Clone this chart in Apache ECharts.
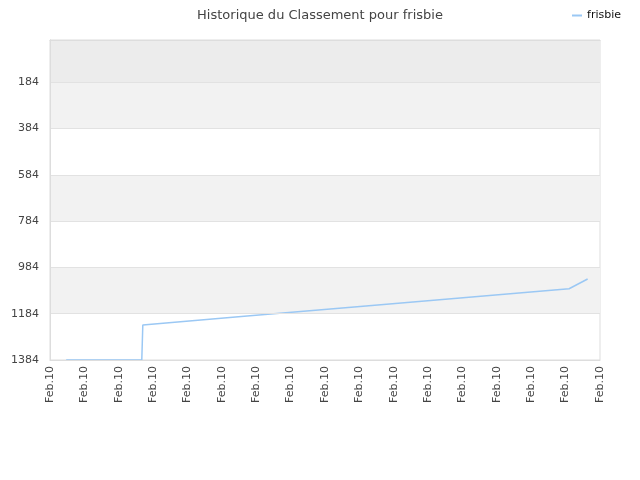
<!DOCTYPE html>
<html lang="fr">
<head>
<meta charset="UTF-8">
<title>Historique du Classement pour frisbie</title>
<script src="https://cdn.jsdelivr.net/npm/echarts@6/dist/echarts.min.js"></script>
<style>
    html, body {margin: 0; padding: 0; background: #fff;}
    #main {width: 640px; height: 480px;}
</style>
</head>
<body>
<div id="main"></div>
<script>
    // positions sur l'axe du temps (0..16) et classement
    var timePos = [0.47, 2.67, 2.7, 5.82, 9.02, 11.93, 15.1, 15.64];
    var ranks = [1384, 1384, 1233, 1193, 1153, 1116, 1076, 1034];
    var xLabels = ['Feb.10','Feb.10','Feb.10','Feb.10','Feb.10','Feb.10','Feb.10','Feb.10','Feb.10',
                   'Feb.10','Feb.10','Feb.10','Feb.10','Feb.10','Feb.10','Feb.10','Feb.10'];
    var yTicks = [184, 384, 584, 784, 984, 1184, 1384];
    var rankMin = 1;

    var fontName = 'DejaVu Sans';
    var lineColor = '#9bc8f4';
    var borderColor = '#dddddd';

    var seriesData = [];
    for (var i = 0; i < timePos.length; i++) {
        seriesData.push([timePos[i], ranks[i]]);
    }

    // bandes grises du fond
    var bands = [
        [{yAxis: rankMin, itemStyle: {color: '#ececec'}}, {yAxis: yTicks[0]}],
        [{yAxis: yTicks[0], itemStyle: {color: '#f2f2f2'}}, {yAxis: yTicks[1]}],
        [{yAxis: yTicks[2], itemStyle: {color: '#f2f2f2'}}, {yAxis: yTicks[3]}],
        [{yAxis: yTicks[4], itemStyle: {color: '#f2f2f2'}}, {yAxis: yTicks[5]}]
    ];

    var myChart = echarts.init(document.getElementById('main'));
    var option = {
        backgroundColor: '#fff',
        animation: false,
        title: {
            text: 'Historique du Classement pour frisbie',
            left: 'center',
            top: 4,
            textStyle: {fontFamily: fontName, fontSize: 13, fontWeight: 'normal', color: '#444'}
        },
        legend: {
            data: ['frisbie'],
            right: 14,
            top: 5,
            icon: 'rect',
            itemWidth: 10,
            itemHeight: 2,
            itemGap: 6,
            textStyle: {fontFamily: fontName, fontSize: 11, color: '#111'}
        },
        grid: {
            left: 50,
            right: 40,
            top: 40,
            bottom: 120,
            show: true,
            borderColor: borderColor,
            borderWidth: 1,
            backgroundColor: '#fff'
        },
        xAxis: [{
            type: 'value',
            min: 0,
            max: 16,
            interval: 1,
            z: 5,
            axisLine: {show: true, lineStyle: {color: borderColor}},
            axisTick: {show: false},
            splitLine: {show: false},
            axisLabel: {
                rotate: 90,
                margin: 6,
                fontFamily: fontName,
                fontSize: 11,
                color: '#444',
                formatter: function (v) { return xLabels[Math.round(v)]; }
            }
        }, {
            type: 'value',
            position: 'top',
            min: 0,
            max: 16,
            z: 5,
            axisLine: {show: true, lineStyle: {color: borderColor}},
            axisTick: {show: false},
            axisLabel: {show: false},
            splitLine: {show: false}
        }],
        yAxis: [{
            type: 'value',
            inverse: true,
            min: rankMin,
            max: 1384,
            z: 5,
            axisLine: {show: true, lineStyle: {color: borderColor}},
            axisTick: {show: false, customValues: yTicks},
            splitLine: {show: true, lineStyle: {color: '#e2e2e2'}},
            axisLabel: {
                customValues: yTicks,
                margin: 11,
                fontFamily: fontName,
                fontSize: 11,
                color: '#444',
                formatter: function (v) { return String(v); }
            }
        }, {
            type: 'value',
            position: 'right',
            inverse: true,
            min: rankMin,
            max: 1384,
            z: 5,
            axisLine: {show: true, lineStyle: {color: borderColor}},
            axisTick: {show: false},
            axisLabel: {show: false},
            splitLine: {show: false}
        }],
        series: [{
            name: 'frisbie',
            type: 'line',
            data: seriesData,
            showSymbol: false,
            symbol: 'none',
            lineStyle: {color: lineColor, width: 1.5},
            itemStyle: {color: lineColor},
            markArea: {silent: true, data: bands}
        }]
    };
    myChart.setOption(option);
</script>
</body>
</html>
